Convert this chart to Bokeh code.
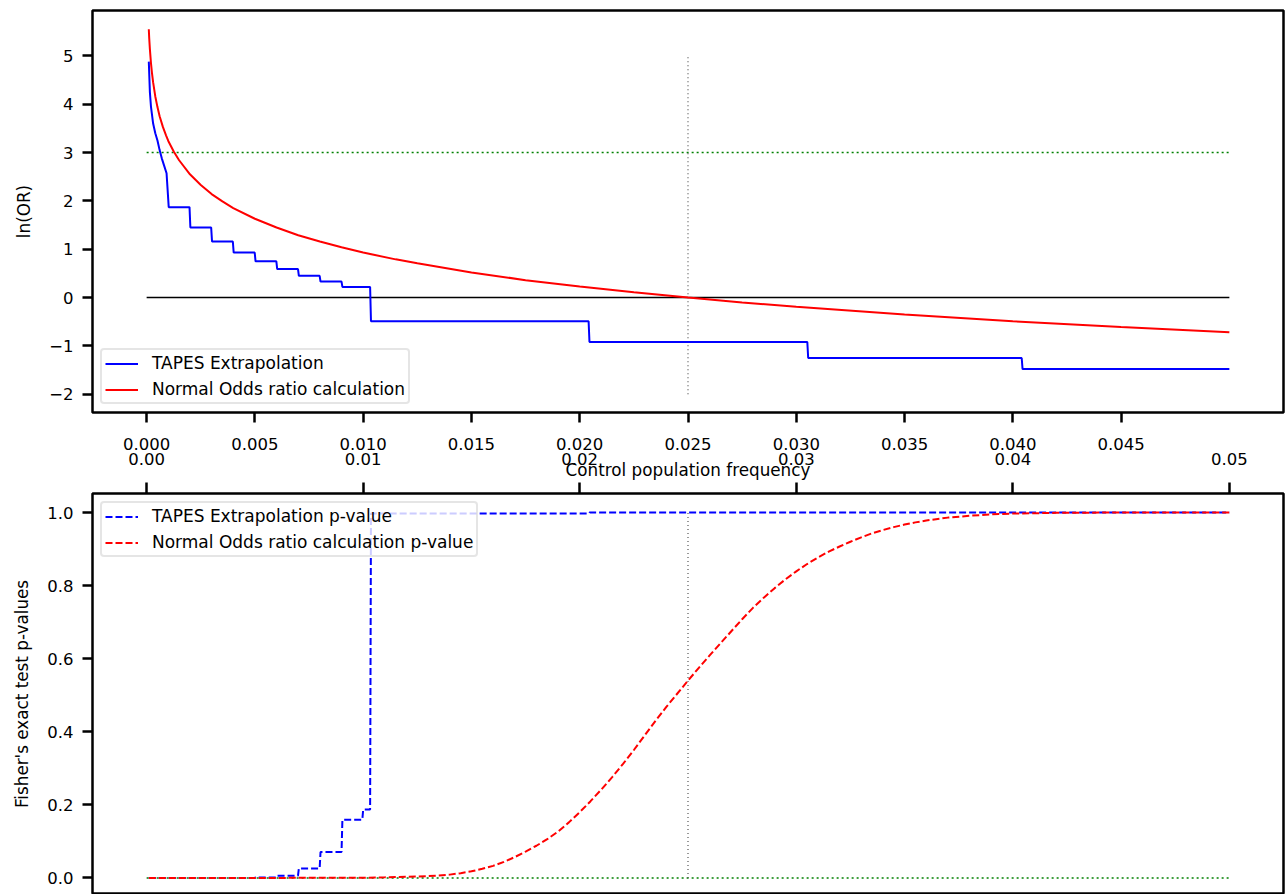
from bokeh.plotting import figure
from bokeh.layouts import column
from bokeh.models import (Range1d, LinearAxis, FixedTicker, Legend, LegendItem,
                          NumeralTickFormatter)
from bokeh.embed import file_html
from bokeh.resources import INLINE

FONT = "DejaVu Sans"
FS = "16.5px"
FS_LABEL = "16.8px"
FS_LEGEND = "17px"

# ---------------- data ----------------
# Normal odds ratio calculation, ln(OR) vs control population frequency
normal_freq = [0.0001, 0.00012, 0.00015, 0.0002, 0.00025, 0.0003, 0.0004, 0.0005,
               0.0006, 0.00075, 0.0009, 0.001, 0.00125, 0.0015, 0.002, 0.0025,
               0.003, 0.0035, 0.004, 0.005, 0.006, 0.007, 0.008, 0.009, 0.010,
               0.0115, 0.0125, 0.015, 0.0175, 0.020, 0.0225, 0.025, 0.0275,
               0.030, 0.035, 0.040, 0.045, 0.050]
normal_ln_or = [5.55, 5.36, 5.14, 4.85, 4.63, 4.45, 4.16, 3.94,
                3.75, 3.53, 3.35, 3.24, 3.02, 2.84, 2.55, 2.33,
                2.14, 1.99, 1.85, 1.63, 1.45, 1.29, 1.16, 1.04, 0.93,
                0.79, 0.71, 0.52, 0.36, 0.23, 0.11, 0.0, -0.10,
                -0.19, -0.35, -0.49, -0.61, -0.72]

# TAPES extrapolation: smooth head then step levels
tapes_head_freq = [0.0001, 0.00015, 0.0002, 0.0003, 0.0004, 0.0005, 0.0006,
                   0.0007, 0.0008, 0.00092]
tapes_head_ln_or = [4.88, 4.25, 3.95, 3.60, 3.40, 3.25, 3.05, 2.88, 2.74, 2.57]
tapes_step_start = [0.00102, 0.00202, 0.00302, 0.00402, 0.00503, 0.00603,
                    0.00703, 0.00803, 0.00904, 0.01036, 0.02045, 0.03055,
                    0.04045]
tapes_step_ln_or = [1.87, 1.45, 1.16, 0.93, 0.75, 0.59, 0.45, 0.33, 0.22,
                    -0.49, -0.92, -1.25, -1.48]
freq_end = 0.05

# Fisher's exact test p-values
tapes_p_start = [0.0001, 0.00503, 0.00603, 0.00703, 0.00803, 0.00904, 0.01000,
                 0.01036, 0.02045]
tapes_p_level = [0.0, 0.001, 0.006, 0.026, 0.071, 0.159, 0.187, 0.997, 1.0]

normal_p_freq = [0.0001, 0.005, 0.008, 0.0100, 0.0110, 0.0120, 0.0130, 0.0135,
                 0.0140, 0.0145, 0.0150, 0.0155, 0.0160, 0.0165, 0.0170, 0.0175,
                 0.0180, 0.0185, 0.0190, 0.0195, 0.0200, 0.0205, 0.0210, 0.0215,
                 0.0220, 0.0225, 0.0230, 0.0235, 0.0240, 0.0245, 0.0250, 0.0255,
                 0.0260, 0.0265, 0.0270, 0.0275, 0.0280, 0.0285, 0.0290, 0.0295,
                 0.0300, 0.0305, 0.0310, 0.0315, 0.0320, 0.0325, 0.0330, 0.0335,
                 0.0340, 0.0345, 0.0350, 0.0355, 0.0360, 0.0370, 0.0380, 0.0390,
                 0.0400, 0.0420, 0.0450, 0.0500]
normal_p = [0.0, 0.0, 0.0002, 0.0005, 0.0015, 0.003, 0.005, 0.0065,
            0.009, 0.013, 0.018, 0.025, 0.033, 0.044, 0.057, 0.072,
            0.088, 0.106, 0.127, 0.152, 0.180, 0.210, 0.242, 0.276,
            0.312, 0.350, 0.390, 0.430, 0.468, 0.504, 0.540, 0.575,
            0.609, 0.642, 0.675, 0.708, 0.739, 0.767, 0.793, 0.817,
            0.839, 0.859, 0.877, 0.893, 0.907, 0.920, 0.932, 0.943,
            0.952, 0.960, 0.967, 0.973, 0.978, 0.986, 0.991, 0.995,
            0.997, 0.999, 1.0, 1.0]

# reference lines
ref_freq_span = [0.0, 0.05]
ln_or_threshold = 3.0
marker_freq = 0.025
ln_or_marker_span = [-2.0, 5.0]
p_marker_span = [0.0, 1.0]
p_threshold = 0.0

# tick labels
fine_ticks = [0.0, 0.005, 0.010, 0.015, 0.020, 0.025, 0.030, 0.035, 0.040, 0.045]
coarse_ticks = [0.0, 0.01, 0.02, 0.03, 0.04, 0.05]
ln_or_ticks = [-2, -1, 0, 1, 2, 3, 4, 5]
p_ticks = [0.0, 0.2, 0.4, 0.6, 0.8, 1.0]


def steps(starts, levels, end, gap=0.00004):
    xs, ys = [], []
    for i, (s, v) in enumerate(zip(starts, levels)):
        e = starts[i + 1] - gap if i + 1 < len(starts) else end
        xs += [s, e]
        ys += [v, v]
    return xs, ys


tx, ty = steps(tapes_step_start, tapes_step_ln_or, freq_end)
tapes_freq = tapes_head_freq + tx
tapes_ln_or = tapes_head_ln_or + ty
tpx, tpy = steps(tapes_p_start, tapes_p_level, freq_end)

W = 1287
H1 = 482
H2 = 894 - H1
X_RANGE = (-0.0025, 0.0525)


def style_axis(ax, tick_out=10):
    ax.axis_line_color = None
    ax.major_tick_out = tick_out
    ax.major_tick_in = 0
    ax.major_tick_line_width = 2.5
    ax.major_tick_line_color = "black"
    ax.minor_tick_line_color = None
    ax.major_label_text_font = FONT
    ax.major_label_text_font_size = FS
    ax.major_label_text_color = "black"
    ax.axis_label_text_font = FONT
    ax.axis_label_text_font_size = FS_LABEL
    ax.axis_label_text_font_style = "normal"
    ax.axis_label_text_color = "black"


def style_legend(lg):
    lg.label_text_font = FONT
    lg.label_text_font_size = FS_LEGEND
    lg.label_text_color = "black"
    lg.glyph_width = 33
    lg.glyph_height = 19
    lg.label_height = 19
    lg.label_standoff = 14
    lg.padding = 3
    lg.spacing = 6
    lg.margin = 8
    lg.border_line_color = "#cccccc"
    lg.border_line_width = 2
    lg.background_fill_color = "white"
    lg.background_fill_alpha = 0.8
    if "border_radius" in lg.properties():
        lg.border_radius = 4


# ---------------- top panel ----------------
p1 = figure(width=W, height=H1, x_range=Range1d(*X_RANGE),
            y_range=Range1d(-2.378, 5.938), output_backend="svg",
            toolbar_location=None, min_border_left=92, min_border_right=4,
            min_border_top=10, min_border_bottom=0)
p1.grid.visible = False
p1.outline_line_color = "black"
p1.outline_line_width = 2.5
p1.background_fill_color = "white"
p1.border_fill_color = "white"

ax1 = p1.xaxis[0]
ax1.ticker = FixedTicker(ticks=fine_ticks)
ax1.formatter = NumeralTickFormatter(format="0.000")
style_axis(ax1, 10)
ax1.major_label_standoff = 15

ax2 = LinearAxis(ticker=FixedTicker(ticks=coarse_ticks),
                 formatter=NumeralTickFormatter(format="0.00"),
                 axis_label="Control population frequency")
style_axis(ax2, 0)
ax2.major_tick_line_color = None
ax2.major_label_standoff = 0
ax2.axis_label_standoff = -8
p1.add_layout(ax2, "below")

ay1 = p1.yaxis[0]
ay1.ticker = FixedTicker(ticks=ln_or_ticks)
ay1.major_label_overrides = {-2: "\u22122", -1: "\u22121"}
style_axis(ay1, 10)
ay1.major_label_standoff = 9
ay1.axis_label = "ln(OR)"
ay1.axis_label_standoff = 12

p1.line(ref_freq_span, [ln_or_threshold] * 2, line_color="green",
        line_width=1.5, line_dash="2 3")
p1.line(ref_freq_span, [0, 0], line_color="black", line_width=1.5)
p1.line([marker_freq] * 2, ln_or_marker_span, line_color="#555555",
        line_width=1.2, line_dash="1 3")
r_tapes = p1.line(tapes_freq, tapes_ln_or, line_color="blue", line_width=2)
r_norm = p1.line(normal_freq, normal_ln_or, line_color="red", line_width=2)

lg1 = Legend(items=[LegendItem(label="TAPES Extrapolation", renderers=[r_tapes]),
                    LegendItem(label="Normal Odds ratio calculation", renderers=[r_norm])],
             location="bottom_left")
style_legend(lg1)
p1.add_layout(lg1, "center")

# ---------------- bottom panel ----------------
p2 = figure(width=W, height=H2, x_range=p1.x_range,
            y_range=Range1d(-0.0454, 1.052), output_backend="svg",
            toolbar_location=None, x_axis_location="above",
            min_border_left=92, min_border_right=4, min_border_top=11,
            min_border_bottom=0)
p2.grid.visible = False
p2.outline_line_color = "black"
p2.outline_line_width = 2.5

bx = p2.xaxis[0]
bx.ticker = FixedTicker(ticks=coarse_ticks)
style_axis(bx, 11)
bx.major_label_text_font_size = "1px"
bx.major_label_text_color = None
bx.major_label_standoff = 0

by = p2.yaxis[0]
by.ticker = FixedTicker(ticks=p_ticks)
by.formatter = NumeralTickFormatter(format="0.0")
style_axis(by, 10)
by.major_label_standoff = 9
by.axis_label = "Fisher's exact test p-values"
by.axis_label_standoff = 12

p2.line(ref_freq_span, [p_threshold] * 2, line_color="green",
        line_width=1.5, line_dash="2 3")
p2.line([marker_freq] * 2, p_marker_span, line_color="#555555",
        line_width=1.2, line_dash="1 3")
r_tp = p2.line(tpx, tpy, line_color="blue", line_width=2, line_dash="7 3")
r_np = p2.line(normal_p_freq, normal_p, line_color="red", line_width=2,
               line_dash="7 3")

lg2 = Legend(items=[LegendItem(label="TAPES Extrapolation p-value", renderers=[r_tp]),
                    LegendItem(label="Normal Odds ratio calculation p-value", renderers=[r_np])],
             location="top_left")
style_legend(lg2)
p2.add_layout(lg2, "center")

layout = column(p1, p2, spacing=0)
open("out.html", "w").write(file_html(layout, INLINE))
